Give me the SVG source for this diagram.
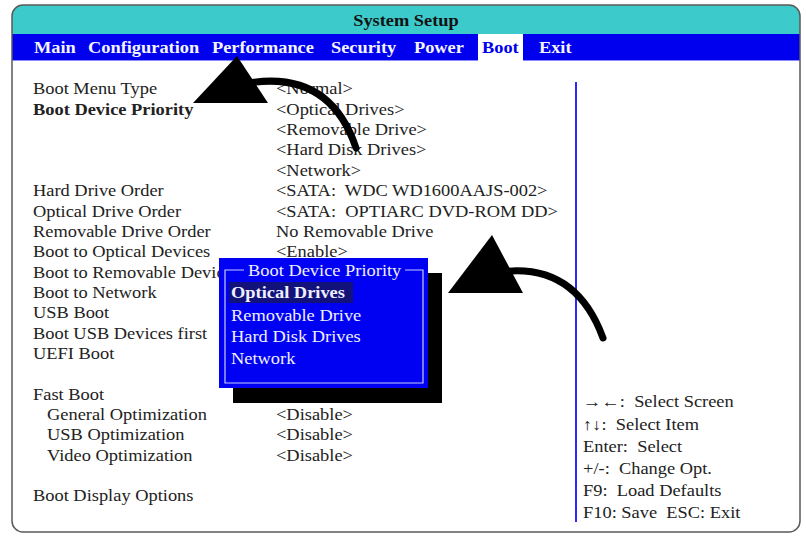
<svg xmlns="http://www.w3.org/2000/svg" width="806" height="536" viewBox="0 0 806 536">
<style>
text{font-family:"Liberation Serif","Times New Roman",serif;font-size:16px;white-space:pre}
.c{fill:#222}
.b{font-weight:bold}
.m{fill:#f4f4ff;font-weight:bold}
.p{fill:#eef0ff}
.conn{fill:none;stroke:#000;stroke-width:7;stroke-linecap:round}
</style>
<g id="frame">
<rect x="12" y="5" width="788" height="527" rx="11" fill="#fff"/>
<path d="M12,34 V17 A12,12 0 0 1 24,5 H788 A12,12 0 0 1 800,17 V34 Z" fill="#3ccaca"/>
<rect x="12" y="34" width="788" height="26" fill="#0000ee"/>
<line x1="12" y1="60.5" x2="800" y2="60.5" stroke="#8a8aff" stroke-width="1"/>
<rect x="478" y="34" width="45" height="27" fill="#fff"/>
<rect x="12" y="5" width="788" height="527" rx="11" fill="none" stroke="#5a5a5a" stroke-width="1.5"/>
<line x1="576" y1="82" x2="576" y2="522" stroke="#2a2aff" stroke-width="2"/>
</g>
<g id="title" transform="scale(1.08 1)">
<text x="375.9" y="26.5" text-anchor="middle" class="b" fill="#111" style="font-size:17px">System Setup</text>
</g>
<g id="menubar" transform="scale(1.08 1)">
<text class="m" x="31.5" y="53.5" style="font-size:17px">Main</text>
<text class="m" x="81.5" y="53.5" style="font-size:17px">Configuration</text>
<text class="m" x="196.3" y="53.5" style="font-size:17px">Performance</text>
<text class="m" x="306.5" y="53.5" style="font-size:17px">Security</text>
<text class="m" x="383.3" y="53.5" style="font-size:17px">Power</text>
<text class="b" fill="#0000ee" x="446.3" y="53.5" style="font-size:17px">Boot</text>
<text class="m" x="499" y="53.5" style="font-size:17px">Exit</text>
</g>
<g id="settings" transform="scale(1.15 1)" class="c">
<text class="c" x="28.7" y="94.5">Boot Menu Type</text>
<text class="c b" x="28.7" y="114.8">Boot Device Priority</text>
<text class="c" x="28.7" y="196.2">Hard Drive Order</text>
<text class="c" x="28.7" y="216.6">Optical Drive Order</text>
<text class="c" x="28.7" y="236.9">Removable Drive Order</text>
<text class="c" x="28.7" y="257.3">Boot to Optical Devices</text>
<text class="c" x="28.7" y="277.6">Boot to Removable Devices</text>
<text class="c" x="28.7" y="298">Boot to Network</text>
<text class="c" x="28.7" y="318.4">USB Boot</text>
<text class="c" x="28.7" y="338.7">Boot USB Devices first</text>
<text class="c" x="28.7" y="359">UEFI Boot</text>
<text class="c" x="28.7" y="399.8">Fast Boot</text>
<text class="c" x="40.9" y="420.1">General Optimization</text>
<text class="c" x="40.9" y="440.5">USB Optimization</text>
<text class="c" x="40.9" y="460.8">Video Optimization</text>
<text class="c" x="28.7" y="501.5">Boot Display Options</text>
<text class="c" x="240" y="94.5">&lt;Normal&gt;</text>
<text class="c" x="240" y="114.8">&lt;Optical Drives&gt;</text>
<text class="c" x="240" y="135.2">&lt;Removable Drive&gt;</text>
<text class="c" x="240" y="155.5">&lt;Hard Disk Drives&gt;</text>
<text class="c" x="240" y="175.9">&lt;Network&gt;</text>
<text class="c" x="240" y="196.2">&lt;SATA:  WDC WD1600AAJS-002&gt;</text>
<text class="c" x="240" y="216.6">&lt;SATA:  OPTIARC DVD-ROM DD&gt;</text>
<text class="c" x="240" y="236.9">No Removable Drive</text>
<text class="c" x="240" y="257.3">&lt;Enable&gt;</text>
<text class="c" x="240" y="420.1">&lt;Disable&gt;</text>
<text class="c" x="240" y="440.5">&lt;Disable&gt;</text>
<text class="c" x="240" y="460.8">&lt;Disable&gt;</text>
</g>
<g id="help" transform="scale(1.15 1)">
<text class="c" x="507" y="407.5">→←:  Select Screen</text>
<text class="c" x="507" y="429.7">↑↓:  Select Item</text>
<text class="c" x="507" y="451.9">Enter:  Select</text>
<text class="c" x="507" y="474.1">+/-:  Change Opt.</text>
<text class="c" x="507" y="496.3">F9:  Load Defaults</text>
<text class="c" x="507" y="518.5">F10: Save  ESC: Exit</text>
</g>
<g id="popup">
<rect x="233" y="273" width="209" height="130" fill="#000"/>
<rect x="219" y="258" width="209" height="130" fill="#0000f2"/>
<path d="M244,270 H225 V383 H423 V270 H405" fill="none" stroke="#c8ccff" stroke-width="1.2"/>
<rect x="229" y="282" width="124" height="21" fill="#12127a"/>
<g transform="scale(1.15 1)">
<text class="p" x="215.7" y="276">Boot Device Priority</text>
<text class="p b" x="200.9" y="298.5">Optical Drives</text>
<text class="p" x="200.9" y="320.5">Removable Drive</text>
<text class="p" x="200.9" y="342.5">Hard Disk Drives</text>
<text class="p" x="200.9" y="364.5">Network</text>
</g>
</g>
<g id="connectors">
<path class="conn" d="M248,83 Q330,70 356,148"/>
<polygon points="237,56 193,103 268,103" fill="#000"/>
<path class="conn" d="M500,272 Q575,262 603,338"/>
<polygon points="492,235 448,293 523,293" fill="#000"/>
</g>
</svg>
